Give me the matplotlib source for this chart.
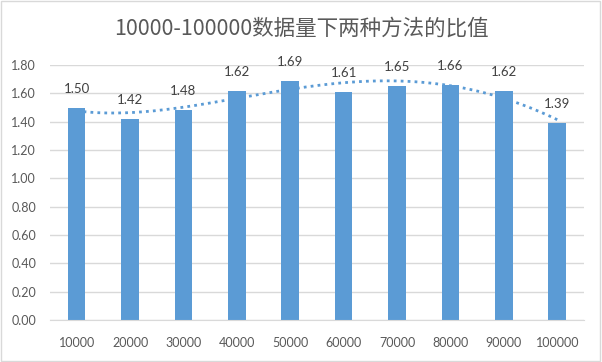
import numpy as np
import matplotlib
matplotlib.use("Agg")
import matplotlib.pyplot as plt

plt.rcParams['font.family'] = ['Lato', 'Noto Sans CJK SC', 'DejaVu Sans']

# data
sizes = ['10000', '20000', '30000', '40000', '50000',
         '60000', '70000', '80000', '90000', '100000']
ratios = [1.50, 1.42, 1.48, 1.62, 1.69, 1.61, 1.65, 1.66, 1.62, 1.39]
title = '10000-100000数据量下两种方法的比值'

bar_color = '#5B9BD5'
text_color = '#595959'

fig = plt.figure(figsize=(6.02, 3.62), dpi=100)
fig.patch.set_facecolor('white')
# light chart border like excel
fig.patches.append(plt.Rectangle((0.002, 0.003), 0.995, 0.993, transform=fig.transFigure,
                                 fill=False, edgecolor='#D9D9D9', linewidth=1))

ax = fig.add_axes([0.083, 0.116, 0.887, 0.704])
x = np.arange(len(sizes))
ax.bar(x, ratios, width=0.33, color=bar_color, zorder=2)

# data labels
for xi, v in zip(x, ratios):
    ax.text(xi, v + 0.135, '%.2f' % v, ha='center', va='center',
            fontsize=9.5, color='#404040', zorder=4)

# polynomial trendline (fit from the data)
coef = np.polyfit(x + 1, ratios, 4)
xs = np.linspace(1, len(sizes), 200)
ax.plot(xs - 1, np.polyval(coef, xs), color=bar_color, linestyle=(0, (1, 1.5)),
        linewidth=2, zorder=3)

ax.set_xlim(-0.5, len(sizes) - 0.5)
ax.set_ylim(0, 1.8)
ax.set_yticks(np.arange(0, 1.81, 0.2))
ax.set_yticklabels(['%.2f' % t for t in np.arange(0, 1.81, 0.2)])
ax.set_xticks(x)
ax.set_xticklabels(sizes)
ax.tick_params(axis='both', length=0, labelsize=9, colors=text_color)
ax.tick_params(axis='x', pad=12)
ax.tick_params(axis='y', pad=10)
ax.grid(axis='y', color='#D9D9D9', linewidth=1, zorder=0)
for s in ['top', 'right', 'left']:
    ax.spines[s].set_visible(False)
ax.spines['bottom'].set_color('#D9D9D9')

fig.text(0.5, 0.922, title, ha='center', va='center', fontsize=15.5, color=text_color,
         family=['Noto Sans CJK SC', 'DejaVu Sans'])

plt.savefig('out.png', dpi=100)
